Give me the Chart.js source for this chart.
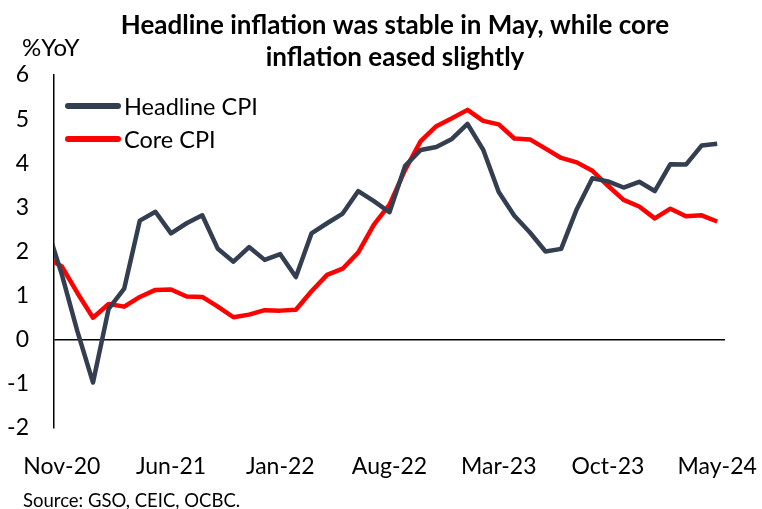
<!DOCTYPE html>
<html>
<head>
<meta charset="utf-8">
<script src="https://cdn.jsdelivr.net/npm/chart.js@4.4.1/dist/chart.umd.min.js"></script>
<style>
  html, body { margin: 0; padding: 0; background: #fff; }
  #wrap { width: 762px; height: 509px; position: relative; }
</style>
</head>
<body>
<div id="wrap"><canvas id="chart"></canvas></div>
<script>
// monthly, Oct-20 is only there so the line runs into the axis like the original
var months = ['Oct-20', 'Nov-20', 'Dec-20', 'Jan-21', 'Feb-21', 'Mar-21', 'Apr-21', 'May-21', 'Jun-21',
  'Jul-21', 'Aug-21', 'Sep-21', 'Oct-21', 'Nov-21', 'Dec-21', 'Jan-22', 'Feb-22', 'Mar-22', 'Apr-22',
  'May-22', 'Jun-22', 'Jul-22', 'Aug-22', 'Sep-22', 'Oct-22', 'Nov-22', 'Dec-22', 'Jan-23', 'Feb-23',
  'Mar-23', 'Apr-23', 'May-23', 'Jun-23', 'Jul-23', 'Aug-23', 'Sep-23', 'Oct-23', 'Nov-23', 'Dec-23',
  'Jan-24', 'Feb-24', 'Mar-24', 'Apr-24', 'May-24'];

var headlineCpi = [2.6, 1.48, 0.19, -0.97, 0.70, 1.16, 2.70, 2.90, 2.41, 2.64, 2.82, 2.06, 1.77, 2.10,
  1.81, 1.94, 1.42, 2.41, 2.64, 2.86, 3.37, 3.14, 2.89, 3.94, 4.30, 4.37, 4.55, 4.89, 4.31, 3.35,
  2.81, 2.43, 2.00, 2.06, 2.96, 3.66, 3.59, 3.45, 3.58, 3.37, 3.98, 3.97, 4.40, 4.44];

var coreCpi = [1.87, 1.66, 1.06, 0.50, 0.81, 0.75, 0.97, 1.13, 1.14, 0.98, 0.97, 0.75, 0.51, 0.57,
  0.67, 0.66, 0.68, 1.10, 1.47, 1.61, 1.98, 2.61, 3.06, 3.85, 4.50, 4.84, 5.02, 5.21, 4.96, 4.88,
  4.56, 4.54, 4.33, 4.12, 4.02, 3.83, 3.49, 3.17, 3.02, 2.75, 2.97, 2.80, 2.82, 2.68];

var firstMonth = 'Nov-20';
var tickEvery = 7;
var yMin = -2, yMax = 6;

var titleLines = ['Headline inflation was stable in May, while core', 'inflation eased slightly'];
var unitLabel = '%YoY';
var sourceText = 'Source: GSO, CEIC, OCBC.';

var FONT = 'Lato, "Noto Sans", sans-serif';
var DARK = '#333F50';
var RED = '#FF0000';

Chart.defaults.font.family = FONT;
Chart.defaults.color = '#000';

// title, unit, legend and source are drawn by hand so they sit where the original has them
var decorations = {
  id: 'decorations',
  afterDraw: function (chart) {
    var ctx = chart.ctx;
    ctx.save();
    ctx.fillStyle = '#000';
    ctx.textAlign = 'center';
    ctx.textBaseline = 'alphabetic';
    ctx.font = 'bold 26px ' + FONT;
    ctx.fillText(titleLines[0], 395, 34);
    ctx.fillText(titleLines[1], 395, 66);

    ctx.textAlign = 'left';
    ctx.font = '24px ' + FONT;
    ctx.fillText(unitLabel, 22, 56);

    var items = chart.data.datasets;
    ctx.lineCap = 'round';
    ctx.lineWidth = 6;
    ctx.textBaseline = 'middle';
    ctx.font = '23.5px ' + FONT;
    for (var i = 0; i < items.length; i++) {
      var y = 106 + i * 33;
      ctx.strokeStyle = items[i].borderColor;
      ctx.beginPath();
      ctx.moveTo(68, y);
      ctx.lineTo(118, y);
      ctx.stroke();
      ctx.fillText(items[i].label, 124, y + 1);
    }

    ctx.textBaseline = 'alphabetic';
    ctx.font = '18.5px ' + FONT;
    ctx.fillText(sourceText, 23, 507);
    ctx.restore();
  }
};

new Chart(document.getElementById('chart'), {
  type: 'line',
  data: {
    labels: months,
    datasets: [
      {
        label: 'Headline CPI',
        data: headlineCpi,
        borderColor: DARK,
        borderWidth: 4.5,
        pointRadius: 0,
        tension: 0,
        borderJoinStyle: 'round',
        clip: 0
      },
      {
        label: 'Core CPI',
        data: coreCpi,
        borderColor: RED,
        borderWidth: 4.5,
        pointRadius: 0,
        tension: 0,
        borderJoinStyle: 'round',
        clip: 0
      }
    ]
  },
  options: {
    responsive: true,
    maintainAspectRatio: false,
    animation: false,
    layout: { padding: { left: 0, top: 75, right: 37, bottom: 0 } },
    plugins: {
      legend: { display: false },
      title: { display: false },
      tooltip: { enabled: false }
    },
    scales: {
      x: {
        type: 'category',
        min: firstMonth,
        offset: true,
        grid: { display: false },
        border: { display: false },
        ticks: {
          autoSkip: false,
          maxRotation: 0,
          padding: 17,
          font: { size: 23 },
          callback: function (val, i) {
            return i % tickEvery === 0 ? this.getLabelForValue(val) : '';
          }
        },
        afterFit: function (scale) {
          scale.height = 81;
          // let the end labels hang past the plot like in the original
          scale.paddingLeft = 0;
          scale.paddingRight = 0;
        }
      },
      y: {
        min: yMin,
        max: yMax,
        ticks: { stepSize: 1, padding: 25, font: { size: 23 } },
        grid: {
          drawTicks: false,
          lineWidth: 1.5,
          color: function (c) { return c.tick && c.tick.value === 0 ? '#000' : 'rgba(0,0,0,0)'; }
        },
        border: { display: true, color: '#000', width: 1.5 },
        afterFit: function (scale) { scale.width = 54; }
      }
    }
  },
  plugins: [decorations]
});
</script>
</body>
</html>
